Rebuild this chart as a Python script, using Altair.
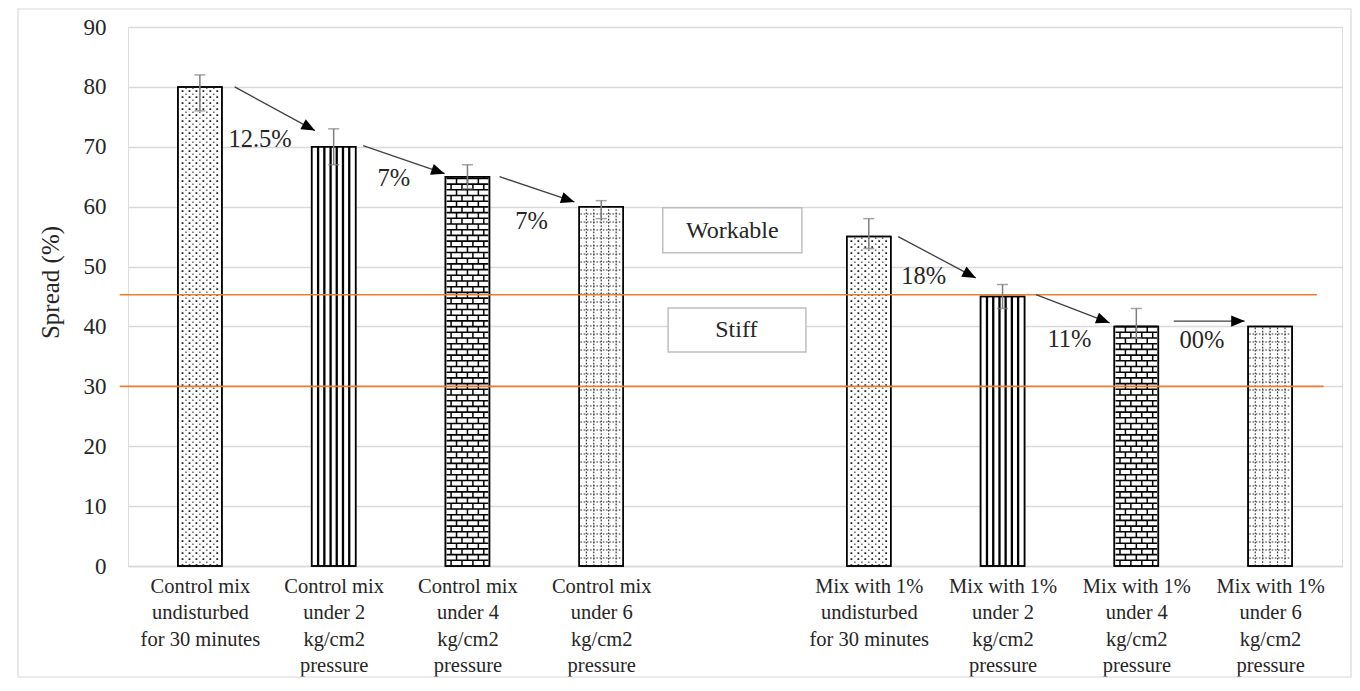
import json
import math
import numpy as np
import pandas as pd
import altair as alt

# ---------------- data ----------------
categories = [
    "Control mix|undisturbed|for 30 minutes",
    "Control mix|under 2|kg/cm2|pressure",
    "Control mix|under 4|kg/cm2|pressure",
    "Control mix|under 6|kg/cm2|pressure",
    "",
    "Mix with 1%|undisturbed|for 30 minutes",
    "Mix with 1%|under 2|kg/cm2|pressure",
    "Mix with 1%|under 4|kg/cm2|pressure",
    "Mix with 1%|under 6|kg/cm2|pressure",
]
spread = [80, 70, 65, 60, None, 55, 45, 40, 40]
err_low = [76, 67, 63, 58, None, 53, 43, 38, None]
err_high = [82, 73, 67, 61, None, 58, 47, 43, None]
pattern = ["dots", "vlines", "bricks", "grid", None, "dots", "vlines", "bricks", "grid"]
y_ticks = [0, 10, 20, 30, 40, 50, 60, 70, 80, 90]

# arrows (slot units on x, spread units on y)
arrow_x1 = [0.76, 1.72, 2.74, 5.72, 6.75, 7.78]
arrow_y1 = [80.0, 70.2, 65.0, 55.0, 45.3, 40.9]
arrow_x2 = [1.36, 2.33, 3.30, 6.30, 7.30, 8.31]
arrow_y2 = [72.7, 65.5, 60.8, 48.1, 40.6, 40.9]

pct_text = ["12.5%", "7%", "7%", "18%", "11%", "00%"]
pct_x = [0.95, 1.95, 2.98, 5.91, 7.00, 7.99]
pct_y = [71.2, 64.6, 57.5, 48.3, 37.8, 37.6]

zone_text = ["Workable", "Stiff"]
zone_x1 = [3.96, 4.00]
zone_x2 = [5.00, 5.03]
zone_y1 = [52.3, 35.75]
zone_y2 = [59.8, 43.1]
zone_tx = [4.48, 4.51]
zone_ty = [56.0, 39.4]

limit_y = [45.3, 30.0]
limit_x1 = [-0.1, -0.1]
limit_x2 = [8.85, 8.90]

# ---------------- layout ----------------
W, H = 1214, 539
N = len(categories)
PX_X = W / N
PX_Y = H / 90
BAR_W = 44
FONT = "'Liberation Serif', 'Times New Roman', 'DejaVu Serif', serif"
TXT = "#262626"

xscale = alt.Scale(domain=[0, N], nice=False, zero=False)
yscale = alt.Scale(domain=[0, 90], nice=False)

bars = pd.DataFrame({
    "x": [i + 0.5 for i in range(N)],
    "v": spread, "lo": err_low, "hi": err_high, "pat": pattern,
})
bars_ok = bars.dropna(subset=["v"])
err_ok = bars.dropna(subset=["lo"])

label_values = [i + 0.5 for i in range(N) if categories[i]]
label_expr = "split(" + json.dumps(categories) + "[floor(datum.value)], '|')"

x_axis = alt.Axis(values=label_values, labelExpr=label_expr, grid=False, ticks=False,
                  tickSize=0, domain=True, domainColor="#d9d9d9", domainWidth=1.3,
                  labelFont=FONT, labelFontSize=20.5, labelLineHeight=26.5, labelColor=TXT,
                  labelBaseline="top", labelPadding=10, labelOverlap=False,
                  labelFlush=False, labelBound=False, title=None)
y_axis = alt.Axis(values=y_ticks, grid=True, gridColor="#d9d9d9", gridWidth=1.3,
                  domain=False, ticks=False, tickSize=0, labelFont=FONT, labelFontSize=23,
                  labelColor=TXT, labelPadding=22, title="Spread (%)", titleFont=FONT,
                  titleFontSize=25, titleFontWeight="normal", titleColor=TXT,
                  titleAngle=270, titleAlign="center", titleBaseline="middle",
                  titleX=-78, titleY=255)

def X(field="x"):
    return alt.X(f"{field}:Q", scale=xscale, axis=x_axis)

def Y(field="y"):
    return alt.Y(f"{field}:Q", scale=yscale, axis=y_axis)

# frame around the whole figure (decoration)
frame = alt.Chart(pd.DataFrame({"a": [0]})).mark_rect(
    filled=False, stroke="#d9d9d9", strokeWidth=1.2
).encode(x=alt.value(-110), x2=alt.value(1223), y=alt.value(-18), y2=alt.value(650))

bar_layer = alt.Chart(bars_ok).mark_bar(
    size=BAR_W, fill="white", stroke="black", strokeWidth=1.5
).encode(x=X("x"), y=Y("v"))

# ---------------- fill patterns derived from bar values ----------------
rows = []
half = BAR_W / 2 - 1
for _, r in bars_ok.iterrows():
    cx, v, p = r["x"], r["v"], r["pat"]
    if p == "vlines":
        for off in [-15.7, -9.4, -3.1, 3.1, 9.4, 15.7]:
            rows.append(dict(kind="vline", x=cx + off / PX_X, x2=None, y=0.0, y2=v))
    elif p == "dots":
        for off in [-17.5, -10.5, -3.5, 3.5, 10.5, 17.5]:
            rows.append(dict(kind="dotA", x=cx + off / PX_X, x2=None, y=0.0, y2=v))
        for off in [-14, -7, 0, 7, 14]:
            rows.append(dict(kind="dotB", x=cx + off / PX_X, x2=None, y=0.0, y2=v))
    elif p == "bricks":
        step = 5.7 / PX_Y
        k = 0
        yb = 0.0
        while yb < v - 1e-6:
            yt = min(yb + step, v)
            offs = [-16.5, -5.5, 5.5, 16.5] if k % 2 == 0 else [-11, 0, 11]
            for off in offs:
                rows.append(dict(kind="bv", x=cx + off / PX_X, x2=None, y=yb, y2=yt))
            if yt < v - 1e-6:
                rows.append(dict(kind="bh", x=cx - half / PX_X, x2=cx + half / PX_X, y=yt, y2=None))
            yb = yt
            k += 1
    elif p == "grid":
        for off in [-15, -7.5, 0, 7.5, 15]:
            rows.append(dict(kind="gv", x=cx + off / PX_X, x2=None, y=0.0, y2=v))
        step = 8.0 / PX_Y
        yy = step
        while yy < v - 0.3:
            rows.append(dict(kind="gh", x=cx - half / PX_X, x2=cx + half / PX_X, y=yy, y2=None))
            yy += step
pat = pd.DataFrame(rows)

def vrule(kind, **kw):
    return alt.Chart(pat[pat.kind == kind]).mark_rule(**kw).encode(
        x=X("x"), y=Y("y"), y2="y2:Q")

def hrule(kind, **kw):
    return alt.Chart(pat[pat.kind == kind]).mark_rule(**kw).encode(
        x=X("x"), x2="x2:Q", y=Y("y"))

pat_layers = [
    vrule("vline", color="black", strokeWidth=2.3),
    vrule("dotA", color="#222222", strokeWidth=1.8, strokeDash=[1.8, 4.2]),
    vrule("dotB", color="#666666", strokeWidth=1.5, strokeDash=[1.5, 4.5], strokeDashOffset=3),
    vrule("bv", color="black", strokeWidth=1.5),
    hrule("bh", color="black", strokeWidth=1.6),
    vrule("gv", color="#333333", strokeWidth=1.2, strokeDash=[1.6, 1.6]),
    hrule("gh", color="#333333", strokeWidth=1.2, strokeDash=[1.6, 1.6]),
]

# bar outline redrawn on top of patterns
outline = alt.Chart(bars_ok).mark_bar(
    size=BAR_W, fill="transparent", stroke="black", strokeWidth=1.5
).encode(x=X("x"), y=Y("v"))

# error bars
err_rule = alt.Chart(err_ok).mark_rule(color="#7f7f7f", strokeWidth=1.5).encode(
    x=X("x"), y=Y("lo"), y2="hi:Q")
caps = pd.concat([err_ok[["x"]].assign(y=err_ok["lo"]), err_ok[["x"]].assign(y=err_ok["hi"])])
err_caps = alt.Chart(caps).mark_tick(orient="horizontal", size=11, thickness=1.5,
                                     color="#7f7f7f").encode(x=X("x"), y=Y("y"))

# workability limits
limits = pd.DataFrame({"y": limit_y, "x": limit_x1, "x2": limit_x2})
limit_layer = alt.Chart(limits).mark_rule(color="#ED7D31", strokeWidth=1.6).encode(
    x=X("x"), x2="x2:Q", y=Y("y"))

zones = pd.DataFrame({"t": zone_text, "x": zone_x1, "x2": zone_x2, "y": zone_y1,
                      "y2": zone_y2, "tx": zone_tx, "ty": zone_ty})
zone_box = alt.Chart(zones).mark_rect(fill="white", stroke="#bfbfbf", strokeWidth=1.5).encode(
    x=X("x"), x2="x2:Q", y=Y("y"), y2="y2:Q")
zone_txt = alt.Chart(zones).mark_text(font=FONT, fontSize=24, color=TXT, align="center",
                                      baseline="middle").encode(
    x=X("tx"), y=Y("ty"), text="t:N")

# arrows
arr = pd.DataFrame({"x1": arrow_x1, "y1": arrow_y1, "x2": arrow_x2, "y2": arrow_y2})
arr["ang"] = [
    math.degrees(math.atan2(-(b2 - b1) * PX_Y, (a2 - a1) * PX_X)) % 360
    for a1, b1, a2, b2 in zip(arrow_x1, arrow_y1, arrow_x2, arrow_y2)
]
arrow_line = alt.Chart(arr).mark_rule(color="#404040", strokeWidth=1.3).encode(
    x=X("x1"), x2="x2:Q", y=Y("y1"), y2="y2:Q")
arrow_head = alt.Chart(arr).mark_point(
    shape="M 0 0 L -1 -0.42 L -1 0.42 Z", filled=True, color="black", size=729, opacity=1,
    strokeWidth=0
).encode(x=X("x2"), y=Y("y2"), angle=alt.Angle("ang:Q", scale=None))

pcts = pd.DataFrame({"t": pct_text, "x": pct_x, "y": pct_y})
pct_layer = alt.Chart(pcts).mark_text(font=FONT, fontSize=24.5, color=TXT, align="center",
                                      baseline="middle").encode(
    x=X("x"), y=Y("y"), text="t:N")

chart = alt.layer(
    bar_layer, frame, *pat_layers, outline, limit_layer, err_rule, err_caps,
    zone_box, zone_txt, arrow_line, arrow_head, pct_layer
).properties(
    width=W, height=H,
    autosize=alt.AutoSizeParams(type="none"),
    padding={"left": 120, "top": 19, "right": 10, "bottom": 112},
).configure_view(strokeWidth=0).configure(background="white")

chart.save("out.html", embed_options={"renderer": "svg", "actions": False})
